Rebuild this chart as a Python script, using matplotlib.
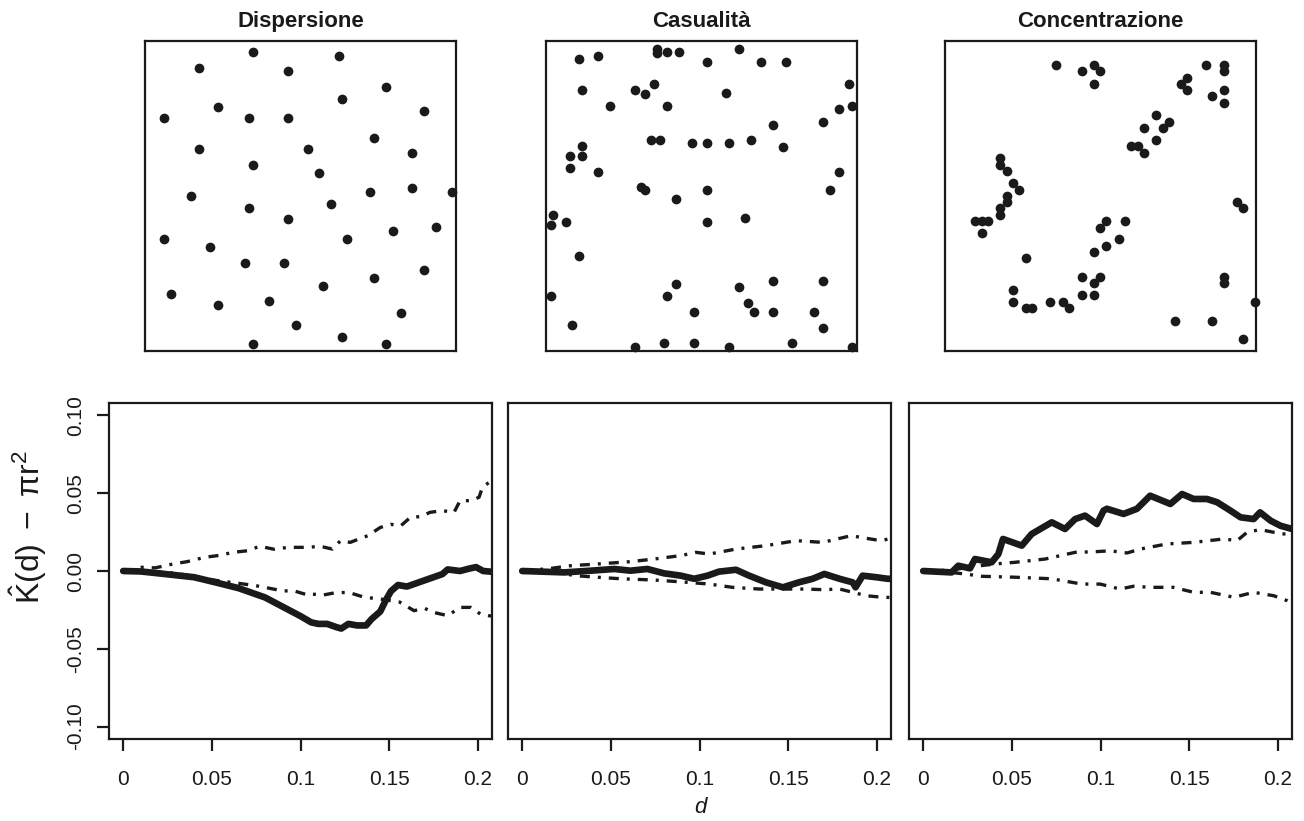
import numpy as np
import matplotlib.pyplot as plt

plt.rcParams['font.family'] = ['Liberation Sans', 'DejaVu Sans']
plt.rcParams['mathtext.fontset'] = 'custom'
plt.rcParams['mathtext.rm'] = 'Liberation Sans'
plt.rcParams['mathtext.it'] = 'Liberation Sans:italic'

titles = ['Dispersione', 'Casualità', 'Concentrazione']

# point patterns (unit square)
disp_x = [0.348, 0.624, 0.174, 0.461, 0.774, 0.235, 0.635, 0.060, 0.334, 0.461, 0.898, 0.736,
          0.174, 0.524, 0.860, 0.348, 0.561, 0.148, 0.334, 0.598, 0.723, 0.860, 0.986, 0.461,
          0.060, 0.210, 0.648, 0.798, 0.937, 0.323, 0.448, 0.898, 0.736, 0.573, 0.084, 0.235,
          0.398, 0.824, 0.484, 0.635, 0.348, 0.774]
disp_y = [0.963, 0.952, 0.914, 0.902, 0.852, 0.788, 0.813, 0.752, 0.752, 0.752, 0.775, 0.688,
          0.651, 0.651, 0.638, 0.600, 0.575, 0.499, 0.461, 0.474, 0.513, 0.525, 0.513, 0.425,
          0.361, 0.335, 0.361, 0.386, 0.399, 0.285, 0.285, 0.260, 0.235, 0.211, 0.185, 0.148,
          0.160, 0.124, 0.085, 0.046, 0.022, 0.022]

cas_x = [0.357, 0.357, 0.388, 0.428, 0.620, 0.107, 0.167, 0.518, 0.690, 0.771, 0.115, 0.287,
         0.318, 0.347, 0.578, 0.973, 0.206, 0.388, 0.941, 0.984, 0.729, 0.892, 0.338, 0.368,
         0.468, 0.518, 0.590, 0.659, 0.761, 0.115, 0.115, 0.076, 0.076, 0.167, 0.941, 0.304,
         0.318, 0.518, 0.913, 0.417, 0.024, 0.015, 0.065, 0.518, 0.640, 0.107, 0.417, 0.620,
         0.729, 0.892, 0.015, 0.388, 0.649, 0.477, 0.670, 0.729, 0.862, 0.085, 0.892, 0.287,
         0.378, 0.477, 0.590, 0.792, 0.984]
cas_y = [0.973, 0.960, 0.963, 0.963, 0.973, 0.942, 0.951, 0.932, 0.932, 0.932, 0.841, 0.841,
         0.830, 0.861, 0.831, 0.861, 0.791, 0.791, 0.781, 0.791, 0.730, 0.739, 0.680, 0.680,
         0.670, 0.670, 0.670, 0.680, 0.659, 0.660, 0.629, 0.629, 0.589, 0.579, 0.579, 0.529,
         0.518, 0.518, 0.518, 0.489, 0.438, 0.407, 0.417, 0.417, 0.428, 0.307, 0.216, 0.206,
         0.225, 0.225, 0.176, 0.176, 0.156, 0.126, 0.126, 0.126, 0.126, 0.085, 0.074, 0.014,
         0.025, 0.025, 0.014, 0.025, 0.014]

conc_x = [0.358, 0.439, 0.478, 0.499, 0.478, 0.838, 0.898, 0.898, 0.898, 0.860, 0.898, 0.758,
          0.779, 0.779, 0.680, 0.719, 0.700, 0.640, 0.680, 0.598, 0.620, 0.640, 0.178, 0.178,
          0.199, 0.220, 0.239, 0.199, 0.199, 0.178, 0.178, 0.096, 0.118, 0.139, 0.118, 0.518,
          0.499, 0.580, 0.559, 0.518, 0.478, 0.259, 0.439, 0.499, 0.478, 0.439, 0.478, 0.220,
          0.220, 0.259, 0.280, 0.339, 0.378, 0.400, 0.938, 0.958, 0.898, 0.898, 0.997, 0.740,
          0.860, 0.958]
conc_y = [0.922, 0.902, 0.922, 0.902, 0.861, 0.922, 0.922, 0.902, 0.842, 0.822, 0.801, 0.861,
          0.882, 0.842, 0.761, 0.740, 0.720, 0.720, 0.681, 0.660, 0.660, 0.640, 0.622, 0.600,
          0.580, 0.541, 0.519, 0.501, 0.480, 0.460, 0.440, 0.420, 0.420, 0.420, 0.380, 0.420,
          0.398, 0.420, 0.360, 0.339, 0.319, 0.299, 0.239, 0.239, 0.218, 0.180, 0.180, 0.198,
          0.159, 0.138, 0.138, 0.159, 0.159, 0.138, 0.480, 0.460, 0.239, 0.218, 0.159, 0.098,
          0.098, 0.039]

# K-function minus pi r^2: observed (obs), upper (hi) and lower (lo) envelopes
disp_obs_d = [0, 0.01, 0.024, 0.04, 0.052, 0.065, 0.08, 0.09, 0.1, 0.106, 0.11, 0.115, 0.12,
              0.123, 0.127, 0.132, 0.137, 0.14, 0.145, 0.148, 0.151, 0.155, 0.16, 0.165, 0.17,
              0.175, 0.18, 0.183, 0.19, 0.195, 0.199, 0.203, 0.208]
disp_obs_k = [0, -0.0003, -0.002, -0.004, -0.0073, -0.011, -0.017, -0.023, -0.029, -0.033,
              -0.034, -0.034, -0.036, -0.037, -0.034, -0.035, -0.035, -0.031, -0.026, -0.019,
              -0.013, -0.009, -0.010, -0.008, -0.006, -0.004, -0.002, 0.001, 0.0, 0.0015,
              0.0025, 0.0, -0.0005]
disp_hi_d = [0, 0.005, 0.0105, 0.018, 0.028, 0.036, 0.046, 0.054, 0.062, 0.07, 0.077, 0.085,
             0.093, 0.104, 0.111, 0.118, 0.1226, 0.128, 0.138, 0.145, 0.151, 0.1565, 0.162,
             0.168, 0.173, 0.18, 0.1866, 0.19, 0.196, 0.2007, 0.2026, 0.2064, 0.208]
disp_hi_k = [0, 0.0005, 0.0024, 0.002, 0.0045, 0.006, 0.0088, 0.010, 0.012, 0.013, 0.0159,
             0.014, 0.0152, 0.0152, 0.0159, 0.0141, 0.0195, 0.0184, 0.0227, 0.028, 0.030,
             0.029, 0.0345, 0.035, 0.0377, 0.0388, 0.0377, 0.0452, 0.0452, 0.0474, 0.0538,
             0.057, 0.056]
disp_lo_d = [0, 0.01, 0.02, 0.03, 0.0426, 0.052, 0.061, 0.0746, 0.082, 0.0896, 0.097, 0.104,
             0.1056, 0.113, 0.119, 0.127, 0.136, 0.145, 0.156, 0.164, 0.17, 0.175, 0.183, 0.19,
             0.196, 0.2015, 0.206, 0.208]
disp_lo_k = [0, -0.0002, -0.0006, -0.0015, -0.0041, -0.006, -0.0073, -0.0094, -0.011,
             -0.0127, -0.013, -0.0154, -0.0148, -0.0154, -0.0141, -0.0137, -0.0169, -0.018,
             -0.020, -0.0255, -0.024, -0.0266, -0.0287, -0.0234, -0.0234, -0.0277, -0.0287,
             -0.029]

cas_obs_d = [0, 0.0236, 0.0386, 0.052, 0.061, 0.0706, 0.08, 0.0895, 0.097, 0.1045, 0.111,
             0.1206, 0.128, 0.1375, 0.147, 0.156, 0.1638, 0.1704, 0.179, 0.1864, 0.188, 0.192,
             0.1997, 0.206, 0.208]
cas_obs_k = [0, -0.0009, 0.0002, 0.0013, 0.0002, 0.0013, -0.0015, -0.003, -0.005, -0.003,
             -0.0004, 0.0008, -0.003, -0.0073, -0.0105, -0.0073, -0.005, -0.0019, -0.005,
             -0.0073, -0.0105, -0.003, -0.004, -0.005, -0.005]
cas_hi_d = [0, 0.015, 0.0273, 0.0424, 0.061, 0.0744, 0.0895, 0.098, 0.1055, 0.1206, 0.1375,
            0.1545, 0.1695, 0.1855, 0.194, 0.2025, 0.208]
cas_hi_k = [0, 0.0015, 0.0034, 0.0045, 0.006, 0.0077, 0.0099, 0.012, 0.0109, 0.0141, 0.0163,
            0.0195, 0.0184, 0.0227, 0.021, 0.0195, 0.021]
cas_lo_d = [0, 0.02, 0.03, 0.0424, 0.0556, 0.0744, 0.09, 0.1055, 0.1186, 0.1337, 0.147, 0.16,
            0.1695, 0.179, 0.1864, 0.194, 0.2034, 0.208]
cas_lo_k = [0, -0.001, -0.003, -0.004, -0.005, -0.0058, -0.007, -0.0084, -0.0105, -0.0116,
            -0.0116, -0.0116, -0.012, -0.0116, -0.0137, -0.0159, -0.0169, -0.017]

conc_obs_d = [0, 0.016, 0.0198, 0.0264, 0.0292, 0.0386, 0.0424, 0.045, 0.0556, 0.0612,
              0.0725, 0.08, 0.0857, 0.0913, 0.098, 0.1017, 0.1036, 0.113, 0.1206, 0.128,
              0.1394, 0.146, 0.1525, 0.16, 0.1658, 0.1733, 0.179, 0.1864, 0.19, 0.196,
              0.2015, 0.208]
conc_obs_k = [0, -0.0009, 0.0034, 0.0017, 0.0077, 0.0056, 0.0109, 0.0206, 0.0163, 0.0238,
              0.0313, 0.027, 0.0334, 0.0356, 0.0302, 0.0388, 0.040, 0.0367, 0.040, 0.0484,
              0.0431, 0.0495, 0.0463, 0.0463, 0.0442, 0.0388, 0.0345, 0.0334, 0.0377, 0.0323,
              0.0291, 0.027]
conc_hi_d = [0, 0.015, 0.0292, 0.0405, 0.0518, 0.0688, 0.0857, 0.097, 0.1055, 0.115, 0.1224,
             0.1375, 0.1525, 0.1695, 0.177, 0.1827, 0.19, 0.1977, 0.2025, 0.208]
conc_hi_k = [0, 0.0005, 0.003, 0.0045, 0.0056, 0.0077, 0.012, 0.0124, 0.013, 0.0116, 0.0141,
             0.0174, 0.0184, 0.0206, 0.0195, 0.0249, 0.0266, 0.0249, 0.0238, 0.024]
conc_lo_d = [0, 0.012, 0.0236, 0.033, 0.0518, 0.0725, 0.0895, 0.0998, 0.111, 0.1186, 0.128,
             0.1412, 0.1525, 0.162, 0.1752, 0.1864, 0.1977, 0.2053, 0.208]
conc_lo_k = [0, -0.0005, -0.0019, -0.0034, -0.004, -0.005, -0.0084, -0.0084, -0.0116,
             -0.0098, -0.0105, -0.0105, -0.0137, -0.0137, -0.0169, -0.0137, -0.0159, -0.0191,
             -0.021]

xticks = [0, 0.05, 0.1, 0.15, 0.2]
xtick_labels = ['0', '0.05', '0.1', '0.15', '0.2']
yticks = [-0.1, -0.05, 0, 0.05, 0.1]
ytick_labels = ['-0.10', '-0.05', '0.00', '0.05', '0.10']

points = [(disp_x, disp_y), (cas_x, cas_y), (conc_x, conc_y)]
curves = [
    (disp_obs_d, disp_obs_k, disp_hi_d, disp_hi_k, disp_lo_d, disp_lo_k),
    (cas_obs_d, cas_obs_k, cas_hi_d, cas_hi_k, cas_lo_d, cas_lo_k),
    (conc_obs_d, conc_obs_k, conc_hi_d, conc_hi_k, conc_lo_d, conc_lo_k),
]

W, H = 1304, 821
fig = plt.figure(figsize=(W / 100, H / 100), dpi=100)
ink = '#1a1a1a'
dashdot = (0, (3.0, 2.4, 0.9, 2.4))

top_left = [145, 546, 945]
bot_left = [109, 508, 909]

for i in range(3):
    ax = fig.add_axes([top_left[i] / W, (H - 351) / H, 311 / W, 310 / H])
    px, py = points[i]
    ax.plot(px, py, 'o', color=ink, ms=7.0, mec='none', clip_on=False)
    ax.set_xlim(0, 1)
    ax.set_ylim(0, 1)
    ax.set_xticks([])
    ax.set_yticks([])
    for s in ax.spines.values():
        s.set_linewidth(1.6)
        s.set_color(ink)
    ax.set_title(titles[i], fontsize=16, fontweight='bold', pad=10, color=ink)

    bx = fig.add_axes([bot_left[i] / W, (H - 739) / H, 383 / W, 336 / H])
    od, ok, hd, hk, ld, lk = curves[i]
    bx.plot(hd, hk, color=ink, lw=2.4, linestyle=dashdot)
    bx.plot(ld, lk, color=ink, lw=2.4, linestyle=dashdot)
    bx.plot(od, ok, color=ink, lw=4.8, solid_capstyle='round', solid_joinstyle='round')
    bx.set_xlim(-0.008, 0.208)
    bx.set_ylim(-0.108, 0.108)
    for s in bx.spines.values():
        s.set_linewidth(1.6)
        s.set_color(ink)
    bx.set_xticks(xticks)
    bx.set_xticklabels(xtick_labels, fontsize=15, color=ink)
    bx.tick_params(axis='x', length=8.5, width=1.6, pad=14, color=ink)
    if i == 0:
        bx.set_yticks(yticks)
        bx.set_yticklabels(ytick_labels, fontsize=15, rotation=90, va='center', color=ink)
        bx.tick_params(axis='y', length=8.5, width=1.6, pad=9, color=ink)
    else:
        bx.set_yticks([])

fig.text(28 / W, 1 - 527 / H, r'$\hat{\mathrm{K}}(\mathrm{d})\ -\ \mathrm{\pi r}^{2}$',
         rotation=90, ha='center', va='center', fontsize=23, color=ink)
fig.text(700 / W, 1 - 807 / H, 'd', style='italic', ha='center', va='center',
         fontsize=16, color=ink)

fig.savefig('out.png', dpi=100)
